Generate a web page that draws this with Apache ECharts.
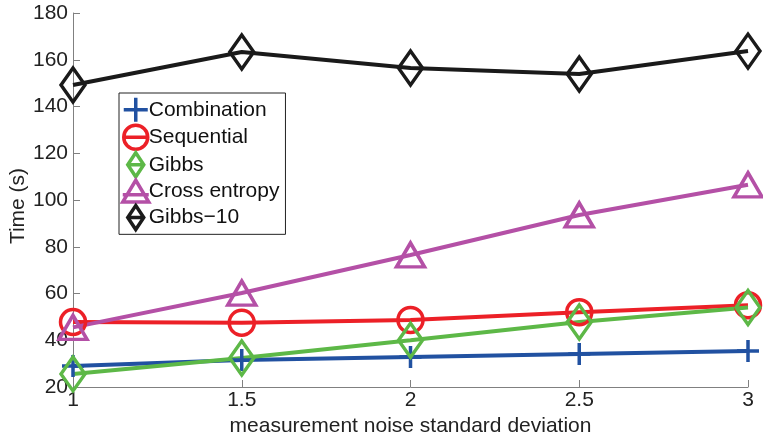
<!DOCTYPE html>
<html><head><meta charset="utf-8">
<script src="https://cdn.jsdelivr.net/npm/echarts@6/dist/echarts.min.js"></script>
<style>html,body{margin:0;padding:0;background:#fff}#c{width:763px;height:434px}</style>
</head><body><div id="c"></div>
<script>
var xValues = [1, 1.5, 2, 2.5, 3];
var combination = [29, 31.5, 32.8, 34.1, 35.4];
var sequential = [47.8, 47.5, 48.7, 52, 55];
var gibbs = [25.6, 32.4, 40, 47.8, 54];
var crossEntropy = [45.5, 60.2, 76.5, 93.6, 106.5];
var gibbs10 = [149.2, 163.3, 156.5, 153.9, 163.7];
var seriesNames = ['Combination', 'Sequential', 'Gibbs', 'Cross entropy', 'Gibbs\u221210'];
var yTicks = [20, 40, 60, 80, 100, 120, 140, 160, 180];

var FONT = 'Liberation Sans, Arial, Helvetica, sans-serif';
var plusPath = 'path://M0,50 L100,50 M50,0 L50,100';
var legendIcons = [
  'path://M0,50 L100,50 M50,0 L50,100',
  'path://M0,50 A50,50 0 1,1 100,50 A50,50 0 1,1 0,50 Z M0,50 L100,50',
  'path://M40,0 L80,60 L40,120 L0,60 Z M0,60 L80,60',
  'path://M50,0 L100,84 L0,84 Z M0,56 L100,56',
  'path://M40,0 L80,60 L40,120 L0,60 Z M0,60 L80,60'
];
function pairs(ys){ return xValues.map(function(x,i){ return [x, ys[i]]; }); }
function mk(name, ys, color, symbol, size){
  return {
    name: name, type: 'line', data: pairs(ys),
    symbol: symbol, symbolSize: size, showAllSymbol: true, clip: false,
    lineStyle: {color: color, width: 4},
    itemStyle: {color: 'rgba(255,255,255,0)', borderColor: color, borderWidth: 3.5},
    emphasis: {disabled: true}, animation: false
  };
}
var chart = echarts.init(document.getElementById('c'));
chart.setOption({
  animation: false,
  grid: {left: 73, right: 15, top: 13, bottom: 47, containLabel: false, outerBoundsMode: 'none'},
  legend: {
    left: 119, top: 93, orient: 'vertical',
    backgroundColor: '#fff', borderColor: '#222', borderWidth: 1,
    padding: [3, 6, 3, 2], itemGap: 0, itemWidth: 26, itemHeight: 24,
    itemStyle: {borderWidth: 3.5},
    textStyle: {fontFamily: FONT, fontSize: 21, lineHeight: 22, color: '#111', padding: [0, 0, 0, -5]},
    data: seriesNames.map(function(n, i){ return {name: n, icon: legendIcons[i]}; })
  },
  xAxis: {
    type: 'value', min: 1, max: 3, interval: 0.5,
    name: 'measurement noise standard deviation', nameLocation: 'middle', nameGap: 27,
    nameTextStyle: {fontFamily: FONT, fontSize: 21, color: '#222'},
    axisLine: {lineStyle: {color: '#808080', width: 1}},
    axisTick: {inside: true, length: 7, lineStyle: {color: '#808080'}},
    axisLabel: {fontFamily: FONT, fontSize: 21, color: '#222', margin: 3},
    splitLine: {show: false}
  },
  yAxis: {
    type: 'value', min: 20, max: 180, interval: 20,
    name: 'Time (s)', nameLocation: 'middle', nameGap: 44, nameMoveOverlap: false,
    nameTextStyle: {fontFamily: FONT, fontSize: 21, color: '#222', padding: [0, 12, 0, 0]},
    axisLine: {show: true, lineStyle: {color: '#808080', width: 1}},
    axisTick: {show: true, inside: true, length: 7, lineStyle: {color: '#808080'}},
    axisLabel: {fontFamily: FONT, fontSize: 21, color: '#222', margin: 5,
      formatter: function(v){ return yTicks.indexOf(v) >= 0 ? String(v) : ''; }},
    splitLine: {show: false}
  },
  series: [
    mk(seriesNames[0], combination, '#2151a1', plusPath, 22),
    mk(seriesNames[1], sequential, '#ec2027', 'circle', 25),
    mk(seriesNames[2], gibbs, '#5db847', 'diamond', [24, 34]),
    mk(seriesNames[3], crossEntropy, '#b450a6', 'triangle', [28, 24]),
    mk(seriesNames[4], gibbs10, '#1a1a1a', 'diamond', [24, 34])
  ]
});
</script></body></html>
